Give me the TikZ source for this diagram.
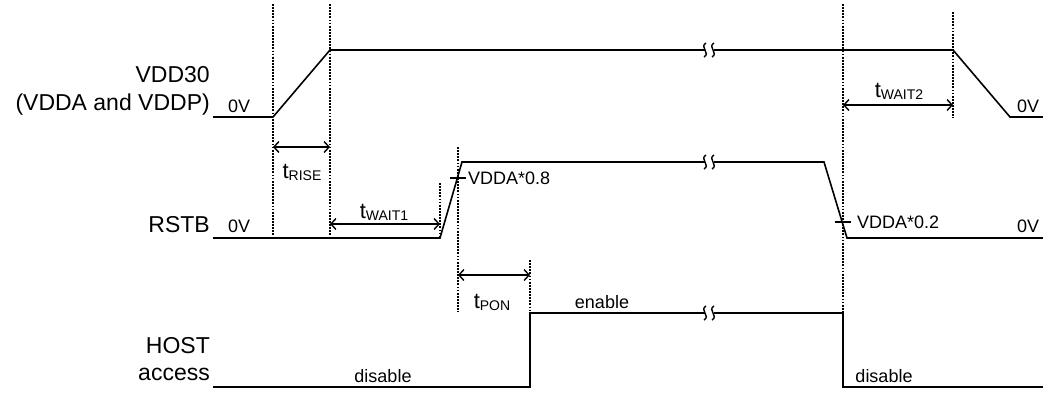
\documentclass[tikz,border=0pt]{standalone}
\usepackage{fontspec}
\setmainfont{Liberation Sans}
\usetikzlibrary{arrows.meta}
\newcommand{\tsub}[1]{t\raisebox{-2pt}{\fontsize{14}{14}\selectfont #1}}
\begin{document}
\begin{tikzpicture}[x=1pt,y=-1pt,
  sig/.style={line width=1.6pt, line join=miter},
  guide/.style={line width=1.4pt, dash pattern=on 1.8pt off 1.3pt},
  dim/.style={line width=1.4pt, {Straight Barb[length=5pt,width=11pt]}-{Straight Barb[length=5pt,width=11pt]}},
  brk/.style={line width=1.4pt},
  big/.style={font=\fontsize{23}{27}\selectfont, inner sep=0pt},
  small/.style={font=\fontsize{18}{21}\selectfont, inner sep=0pt},
  tlab/.style={font=\fontsize{22}{26}\selectfont, anchor=base, inner sep=0pt},
]
\useasboundingbox (0,0) rectangle (1043,392);

% ---- key coordinates ----
% VDD30
\coordinate (v0) at (213,117);
\coordinate (v1) at (273,117);
\coordinate (v2) at (330,50);
\coordinate (vb1) at (705,50);
\coordinate (vb2) at (714,50);
\coordinate (v3) at (953,50);
\coordinate (v4) at (1010,117);
\coordinate (v5) at (1043,117);
% RSTB
\coordinate (r0) at (213,238);
\coordinate (r1) at (440,238);
\coordinate (r2) at (462,162);
\coordinate (rb1) at (705,162);
\coordinate (rb2) at (714,162);
\coordinate (r3) at (824,162);
\coordinate (r4) at (847,238);
\coordinate (r5) at (1043,238);
% HOST
\coordinate (h0) at (213,387);
\coordinate (h1) at (530,387);
\coordinate (h2) at (530,313);
\coordinate (hb1) at (705,313);
\coordinate (hb2) at (714,313);
\coordinate (h3) at (843,313);
\coordinate (h4) at (843,387);
\coordinate (h5) at (1043,387);

% ---- signals ----
\draw[sig] (v0) -- (v1) -- (v2) -- (vb1);
\draw[sig] (vb2) -- (v3) -- (v4) -- (v5);
\draw[sig] (r0) -- (r1) -- (r2) -- (rb1);
\draw[sig] (rb2) -- (r3) -- (r4) -- (r5);
\draw[sig] (h0) -- (h1) -- (h2) -- (hb1);
\draw[sig] (hb2) -- (h3) -- (h4) -- (h5);

% ---- break marks ----
\foreach \y in {50,162,313}{
  \foreach \x in {705,713}{
    \draw[brk] (\x+1,\y-7) .. controls (\x-6,\y-3) and (\x+6,\y+3) .. (\x-1,\y+7);
  }
}

% ---- guides ----
\coordinate (g1t) at (273,4);   \coordinate (g1b) at (273,238);
\coordinate (g2t) at (330,4);   \coordinate (g2b) at (330,238);
\coordinate (g3t) at (440,183); \coordinate (g3b) at (440,238);
\coordinate (g4t) at (458,147); \coordinate (g4b) at (458,312);
\coordinate (g5t) at (530,260); \coordinate (g5b) at (530,313);
\coordinate (g6t) at (843,4);   \coordinate (g6b) at (843,313);
\coordinate (g7t) at (953,12);  \coordinate (g7b) at (953,118);
\foreach \g in {1,...,7}{\draw[guide] (g\g t) -- (g\g b);}

% ---- threshold ticks ----
\coordinate (k1a) at (450,178); \coordinate (k1b) at (466,178);
\coordinate (k2a) at (834.5,222); \coordinate (k2b) at (850.5,222);
\draw[brk] (k1a) -- (k1b);
\draw[brk] (k2a) -- (k2b);

% ---- dimension arrows ----
\coordinate (d1a) at (273,147); \coordinate (d1b) at (330,147);
\coordinate (d2a) at (330,224); \coordinate (d2b) at (440,224);
\coordinate (d3a) at (843,105); \coordinate (d3b) at (953,105);
\coordinate (d4a) at (458,275); \coordinate (d4b) at (530,275);
\draw[dim] (d1a) -- (d1b);
\draw[dim] (d2a) -- (d2b);
\draw[dim] (d3a) -- (d3b);
\draw[dim] (d4a) -- (d4b);

% ---- timing labels ----
\node[tlab] (trise) at (302,178) {\tsub{RISE}};
\node[tlab] (twait1) at (384,218) {\tsub{WAIT1}};
\node[tlab] (twait2) at (899,97) {\tsub{WAIT2}};
\node[tlab] (tpon) at (492,308) {\tsub{PON}};

% ---- small labels ----
\node[small, anchor=base west] (v08) at (468,184.5) {VDDA*0.8};
\node[small, anchor=base west] (v02) at (857,228.5) {VDDA*0.2};
\node[small, anchor=base west] (z1) at (228,112) {0V};
\node[small, anchor=base west] (z2) at (228,232) {0V};
\node[small, anchor=base west] (z3) at (1017,112) {0V};
\node[small, anchor=base west] (z4) at (1017,232) {0V};
\node[small, anchor=base] (en) at (602,308) {enable};
\node[small, anchor=base] (dis1) at (383,382) {disable};
\node[small, anchor=base] (dis2) at (884,382) {disable};

% ---- signal names ----
\node[big, anchor=base east] (n1) at (210,82) {VDD30};
\node[big, anchor=base east] (n2) at (210,110) {(VDDA and VDDP)};
\node[big, anchor=base east] (n3) at (210,232) {RSTB};
\node[big, anchor=base east] (n4) at (210,353) {HOST};
\node[big, anchor=base east] (n5) at (210,380) {access};
\end{tikzpicture}
\end{document}
